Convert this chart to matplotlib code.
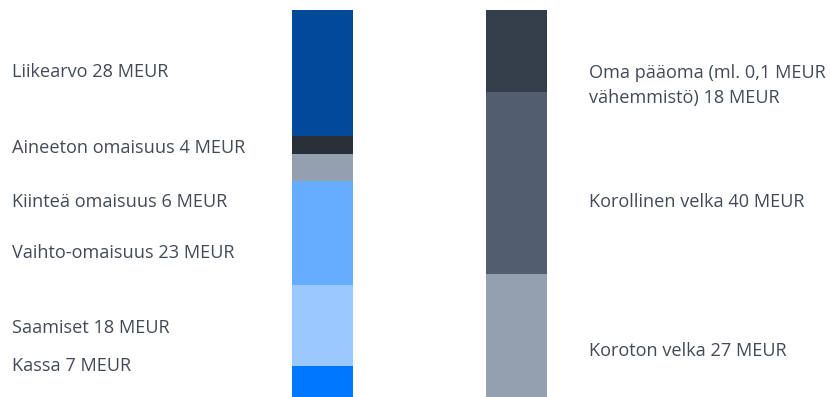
import matplotlib.pyplot as plt

# Balance sheet structure, MEUR
asset_labels = ['Kassa 7 MEUR', 'Saamiset 18 MEUR', 'Vaihto-omaisuus 23 MEUR',
                'Kiinteä omaisuus 6 MEUR', 'Aineeton omaisuus 4 MEUR', 'Liikearvo 28 MEUR']
asset_values = [7, 18, 23, 6, 4, 28]
asset_colors = ['#0077ff', '#99c9ff', '#66adff', '#949fb0', '#2a3038', '#004a99']

liab_labels = ['Koroton velka 27 MEUR', 'Korollinen velka 40 MEUR',
               'Oma pääoma (ml. 0,1 MEUR\nvähemmistö) 18 MEUR']
liab_values = [27, 40, 18]
liab_colors = ['#949fb0', '#525e70', '#343e4a']

W, H = 831, 397
fig = plt.figure(figsize=(W / 100, H / 100), dpi=100)
ax = fig.add_axes([0, 0, 1, 387 / H])
ax.set_xlim(0, W)
ax.set_ylim(0, 100)
ax.axis('off')

def stack(x, values, colors):
    total = sum(values)
    bottom = 0
    for v, c in zip(values, colors):
        h = v / total * 100
        ax.bar(x, h, width=61, bottom=bottom, color=c, align='edge', linewidth=0)
        bottom += h

stack(292, asset_values, asset_colors)
stack(486, liab_values, liab_colors)

text_color = '#434a57'
font = dict(family='Open Sans', fontsize=13.1, color=text_color, va='center')

# label centre heights in pixels from the top
asset_label_y = [366, 328, 253, 202, 148, 72]
for lab, y in zip(asset_labels, asset_label_y):
    fig.text(12 / W, 1 - y / H, lab, ha='left', **font)

liab_label_y = [351, 202, 85.5]
for lab, y in zip(liab_labels, liab_label_y):
    fig.text(589 / W, 1 - y / H, lab, ha='left', linespacing=1.48, **font)

fig.savefig('out.png', dpi=100)
